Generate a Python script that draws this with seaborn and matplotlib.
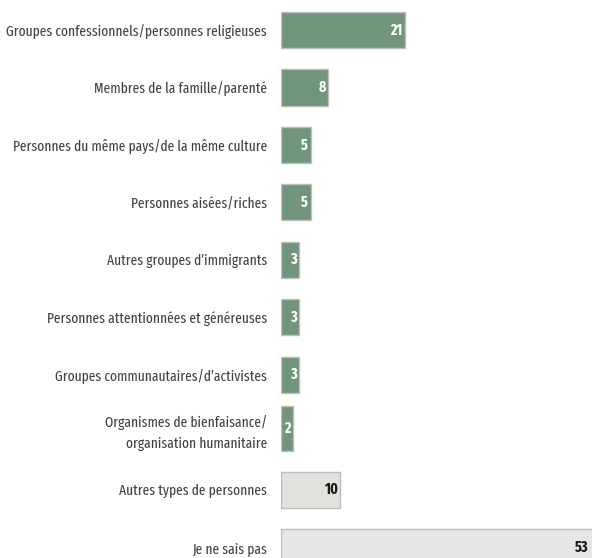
import matplotlib
matplotlib.use("Agg")
import matplotlib.pyplot as plt
import seaborn as sns
import pandas as pd

# ---- data ----
categories = [
    "Groupes confessionnels/personnes religieuses",
    "Membres de la famille/parenté",
    "Personnes du même pays/de la même culture",
    "Personnes aisées/riches",
    "Autres groupes d\u2019immigrants",
    "Personnes attentionnées et généreuses",
    "Groupes communautaires/d\u2019activistes",
    "Organismes de bienfaisance/\norganisation humanitaire",
    "Autres types de personnes",
    "Je ne sais pas",
]
values = [21, 8, 5, 5, 3, 3, 3, 2, 10, 53]
bar_colors = ["#6b9b78"] * 8 + ["#dfe3dc", "#e6e6e6"]
text_colors = ["white"] * 8 + ["#1a1a1a", "#1a1a1a"]

df = pd.DataFrame({"cat": categories, "val": values})

sns.set_style("white")
plt.rcParams["font.family"] = ["Fira Sans Extra Condensed", "DejaVu Sans"]

fig = plt.figure(figsize=(5.92, 5.58), dpi=100)
ax = fig.add_axes([281 / 592, 0, 1 - 281 / 592, 1])

sns.barplot(data=df, x="val", y="cat", hue="cat", palette=bar_colors,
            legend=False, orient="h", width=0.63,
            edgecolor="#bdbdbd", linewidth=1, ax=ax)

# the two-line category gets a slightly taller bar, a bit higher up
row_pos = list(range(len(categories)))
row_pos[7] = 6.93
for p in ax.patches:
    i = round(p.get_y() + p.get_height() / 2)
    if i == 7:
        p.set_height(0.78)
        p.set_y(row_pos[7] - 0.39)

ax.set_xlim(0, 52.7)
ax.set_ylim(9.19, -0.523)
ax.set_yticks(row_pos, labels=categories)
ax.set_xlabel("")
ax.set_ylabel("")
ax.set_xticks([])
sns.despine(ax=ax, left=True, bottom=True)
ax.tick_params(axis="y", length=0, pad=10, labelsize=10.5, labelcolor="#404040")
for lab in ax.get_yticklabels():
    lab.set_horizontalalignment("right")
    lab.set_linespacing(1.55)

# value labels at the end of each bar
for y, v, c in zip(row_pos, values, text_colors):
    ax.text(min(v, 52.6) - 0.4, y, str(v), ha="right", va="center",
            color=c, fontsize=11, fontweight="bold")

fig.savefig("out.png", dpi=100)
